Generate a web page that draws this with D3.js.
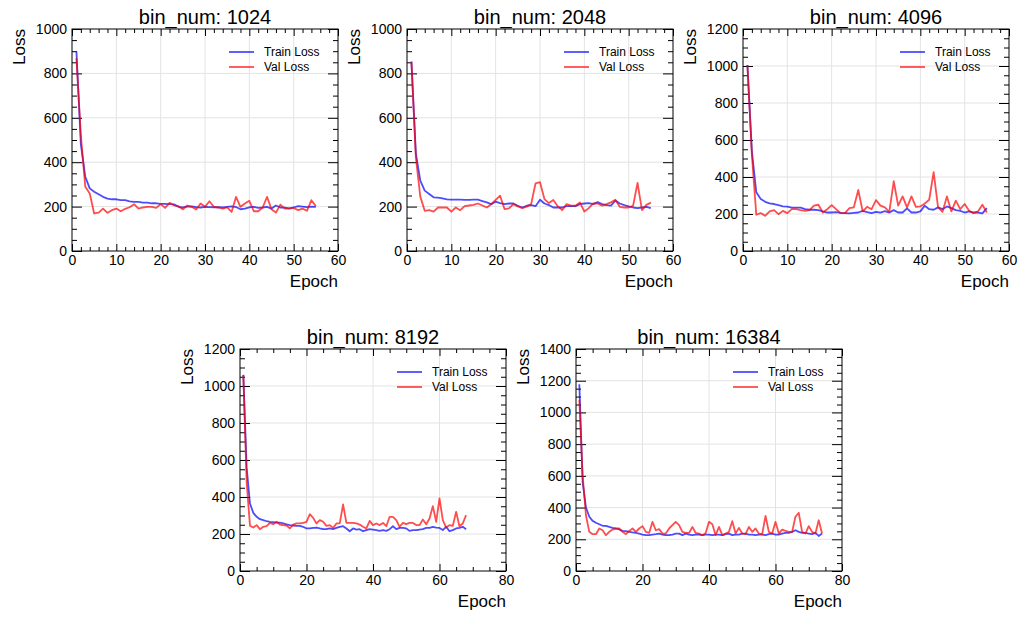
<!DOCTYPE html>
<html>
<head>
<meta charset="utf-8">
<script src="https://cdn.jsdelivr.net/npm/d3@7"></script>
<style>
  html, body { margin: 0; padding: 0; background: #fff; }
  svg { display: block; font-family: "Liberation Sans", Arial, Helvetica, sans-serif; }
</style>
</head>
<body>
<svg id="chart" width="1021" height="617"></svg>
<script>
// Training curves per histogram bin count
const binNums = [1024, 2048, 4096, 8192, 16384];
const xMaxes = [60, 60, 60, 80, 80];
const yMaxes = [1000, 1000, 1200, 1200, 1400];
const seriesNames = ["Train Loss", "Val Loss"];

const train1024 = [899, 480, 334, 282, 267, 256, 244, 236, 233, 233, 229, 229, 224, 221, 221, 218, 218, 215, 215, 212,
  212, 211, 210, 199, 196, 200, 201, 198, 196, 199, 198, 197, 198, 196, 199, 201, 198, 188, 191, 197,
  199, 194, 196, 199, 191, 205, 196, 195, 192, 196, 202, 200, 198, 200, 199];
const val1024 = [869, 520, 289, 259, 169, 173, 191, 172, 184, 191, 179, 190, 197, 211, 191, 196, 199, 199, 194, 211,
  194, 217, 206, 202, 188, 205, 199, 187, 214, 199, 224, 199, 196, 191, 196, 176, 244, 199, 214, 226,
  179, 179, 196, 244, 188, 173, 209, 191, 191, 194, 184, 191, 181, 229, 202];

const train2048 = [853, 440, 317, 272, 257, 242, 240, 237, 233, 231, 231, 231, 230, 230, 231, 231, 225, 219, 211, 222,
  216, 211, 214, 214, 204, 196, 204, 207, 202, 231, 214, 207, 196, 196, 196, 202, 202, 202, 211, 214,
  216, 211, 220, 211, 207, 204, 227, 214, 207, 201, 196, 193, 196, 199, 193];
const val2048 = [853, 420, 245, 181, 184, 177, 196, 196, 196, 177, 196, 184, 202, 205, 208, 214, 205, 196, 211, 230,
  249, 189, 192, 211, 201, 193, 200, 211, 305, 310, 234, 216, 230, 202, 184, 211, 204, 204, 219, 178,
  193, 214, 214, 204, 211, 219, 231, 199, 196, 196, 204, 307, 184, 208, 218];

const train4096 = [1005, 540, 317, 281, 266, 257, 254, 248, 241, 240, 234, 234, 234, 226, 223, 223, 221, 214, 208, 208,
  210, 206, 205, 203, 206, 208, 217, 210, 205, 212, 208, 215, 208, 221, 208, 208, 230, 208, 208, 214,
  245, 226, 223, 236, 226, 241, 232, 221, 217, 208, 214, 208, 208, 203, 232];
const val4096 = [1005, 520, 196, 205, 190, 214, 221, 199, 217, 205, 226, 226, 221, 217, 221, 245, 250, 208, 226, 248,
  226, 205, 205, 232, 236, 330, 214, 239, 226, 275, 245, 236, 212, 377, 245, 295, 236, 295, 239, 241,
  257, 277, 426, 236, 212, 295, 214, 272, 226, 254, 217, 205, 214, 250, 208];

const train8192 = [1060, 560, 365, 314, 293, 280, 275, 269, 266, 264, 262, 261, 257, 252, 248, 246, 244, 244, 239, 230,
  230, 233, 235, 230, 226, 226, 230, 226, 233, 239, 242, 230, 215, 230, 224, 226, 215, 221, 226, 224,
  221, 217, 221, 217, 226, 242, 226, 233, 233, 230, 217, 221, 221, 224, 226, 233, 233, 239, 235, 233,
  221, 239, 215, 221, 230, 233, 239, 226];
const val8192 = [1060, 480, 245, 235, 248, 226, 239, 242, 260, 253, 266, 251, 248, 246, 230, 251, 257, 257, 260, 266,
  307, 287, 257, 275, 266, 244, 248, 233, 257, 257, 360, 260, 260, 260, 257, 251, 239, 230, 271, 248,
  257, 248, 260, 242, 293, 293, 275, 239, 260, 253, 260, 260, 248, 248, 278, 253, 284, 351, 266, 392,
  275, 235, 248, 244, 320, 242, 257, 302];

const train16384 = [1178, 560, 400, 342, 316, 304, 295, 285, 285, 278, 272, 268, 262, 253, 251, 247, 243, 240, 236, 230,
  226, 226, 230, 232, 236, 230, 226, 226, 230, 236, 236, 226, 236, 230, 226, 230, 230, 226, 230, 230,
  226, 230, 230, 226, 232, 236, 226, 230, 230, 236, 236, 230, 230, 226, 230, 230, 226, 232, 236, 230,
  230, 236, 240, 240, 247, 257, 247, 240, 240, 236, 232, 240, 221, 236];
const val16384 = [1080, 600, 350, 247, 232, 232, 268, 257, 226, 247, 261, 268, 268, 247, 232, 253, 268, 247, 268, 283,
  247, 240, 310, 257, 264, 236, 236, 268, 289, 310, 289, 247, 240, 240, 278, 240, 236, 226, 240, 310,
  295, 226, 278, 226, 236, 247, 314, 236, 272, 236, 232, 278, 247, 268, 236, 232, 348, 247, 236, 310,
  236, 261, 253, 247, 247, 342, 367, 247, 236, 283, 247, 236, 320, 236];

const trainSeries = [train1024, train2048, train4096, train8192, train16384];
const valSeries = [val1024, val2048, val4096, val8192, val16384];

// Panel frames (plot-area origin and size)
const panelW = 266, panelH = 222;
const origins = [[72, 29], [407, 29], [743, 29], [240, 349], [576, 349]];

const colors = { train: "rgba(0,0,255,0.7)", val: "rgba(255,0,0,0.7)" };
const svg = d3.select("#chart");

binNums.forEach((bin, i) => {
  const [ox, oy] = origins[i];
  const xMax = xMaxes[i], yMax = yMaxes[i];
  const g = svg.append("g").attr("transform", `translate(${ox},${oy})`);

  const x = d3.scaleLinear().domain([0, xMax]).range([0, panelW]);
  const y = d3.scaleLinear().domain([0, yMax]).range([panelH, 0]);

  const xStep = xMax === 60 ? 10 : 20;
  const xMinorStep = xMax === 60 ? 2 : 5;
  const xMajor = d3.range(0, xMax + 0.001, xStep);
  const xMinor = d3.range(0, xMax + 0.001, xMinorStep).filter(v => v % xStep !== 0);
  const yMajor = d3.range(0, yMax + 0.001, 200);
  const yMinor = d3.range(0, yMax + 0.001, 50).filter(v => v % 200 !== 0);

  // grid
  g.append("g").selectAll("line").data(xMajor.slice(1, -1)).join("line")
    .attr("x1", d => x(d)).attr("x2", d => x(d)).attr("y1", 0).attr("y2", panelH)
    .attr("stroke", "#e3e3e3").attr("stroke-width", 1);
  g.append("g").selectAll("line").data(yMajor.slice(1, -1)).join("line")
    .attr("y1", d => y(d)).attr("y2", d => y(d)).attr("x1", 0).attr("x2", panelW)
    .attr("stroke", "#e3e3e3").attr("stroke-width", 1);

  // axes with inward ticks on all four sides
  const styleAxis = sel => {
    sel.select(".domain").remove();
    sel.selectAll(".tick line").attr("stroke", "#000").attr("stroke-width", 1);
    sel.selectAll("text").attr("font-size", 14).attr("fill", "#000")
      .attr("font-family", "Liberation Sans, Arial, sans-serif");
  };
  g.append("g").attr("transform", `translate(0,${panelH})`)
    .call(d3.axisBottom(x).tickValues(xMajor).tickFormat(d3.format("d")).tickSizeInner(-7).tickSizeOuter(0).tickPadding(4))
    .call(styleAxis);
  g.append("g").attr("transform", `translate(0,${panelH})`)
    .call(d3.axisBottom(x).tickValues(xMinor).tickFormat("").tickSizeInner(-4).tickSizeOuter(0))
    .call(styleAxis);
  g.append("g")
    .call(d3.axisTop(x).tickValues(xMajor).tickFormat("").tickSizeInner(-7).tickSizeOuter(0))
    .call(styleAxis);
  g.append("g")
    .call(d3.axisTop(x).tickValues(xMinor).tickFormat("").tickSizeInner(-4).tickSizeOuter(0))
    .call(styleAxis);
  g.append("g")
    .call(d3.axisLeft(y).tickValues(yMajor).tickFormat(d3.format("d")).tickSizeInner(-10).tickSizeOuter(0).tickPadding(5))
    .call(styleAxis);
  g.append("g")
    .call(d3.axisLeft(y).tickValues(yMinor).tickFormat("").tickSizeInner(-5).tickSizeOuter(0))
    .call(styleAxis);
  g.append("g").attr("transform", `translate(${panelW},0)`)
    .call(d3.axisRight(y).tickValues(yMajor).tickFormat("").tickSizeInner(-10).tickSizeOuter(0))
    .call(styleAxis);
  g.append("g").attr("transform", `translate(${panelW},0)`)
    .call(d3.axisRight(y).tickValues(yMinor).tickFormat("").tickSizeInner(-5).tickSizeOuter(0))
    .call(styleAxis);

  // loss curves
  const line = d3.line().x((d, k) => x(k + 1)).y(d => y(d));
  g.append("path").datum(trainSeries[i]).attr("d", line)
    .attr("fill", "none").attr("stroke", colors.train).attr("stroke-width", 1.8).attr("stroke-linejoin", "round");
  g.append("path").datum(valSeries[i]).attr("d", line)
    .attr("fill", "none").attr("stroke", colors.val).attr("stroke-width", 1.8).attr("stroke-linejoin", "round");

  // frame
  g.append("rect").attr("width", panelW).attr("height", panelH)
    .attr("fill", "none").attr("stroke", "#000").attr("stroke-width", 1);

  // legend
  const leg = g.append("g").attr("transform", `translate(${panelW - 109},23)`);
  [colors.train, colors.val].forEach((c, k) => {
    leg.append("line").attr("x1", 0).attr("x2", 25).attr("y1", k * 15).attr("y2", k * 15)
      .attr("stroke", c).attr("stroke-width", 1.8);
    leg.append("text").attr("x", 35).attr("y", k * 15).attr("dy", "0.35em")
      .attr("font-size", 12).attr("fill", "#000").text(seriesNames[k]);
  });

  // title and axis labels
  g.append("text").attr("x", panelW / 2).attr("y", -5).attr("text-anchor", "middle")
    .attr("font-size", 20).attr("fill", "#000").text(`bin_num: ${bin}`);
  g.append("text").attr("x", panelW).attr("y", panelH + 36).attr("text-anchor", "end")
    .attr("font-size", 17).attr("fill", "#000").text("Epoch");
  g.append("text").attr("transform", `translate(-47,0) rotate(-90)`).attr("text-anchor", "end")
    .attr("font-size", 17).attr("fill", "#000").text("Loss");
});
</script>
</body>
</html>
